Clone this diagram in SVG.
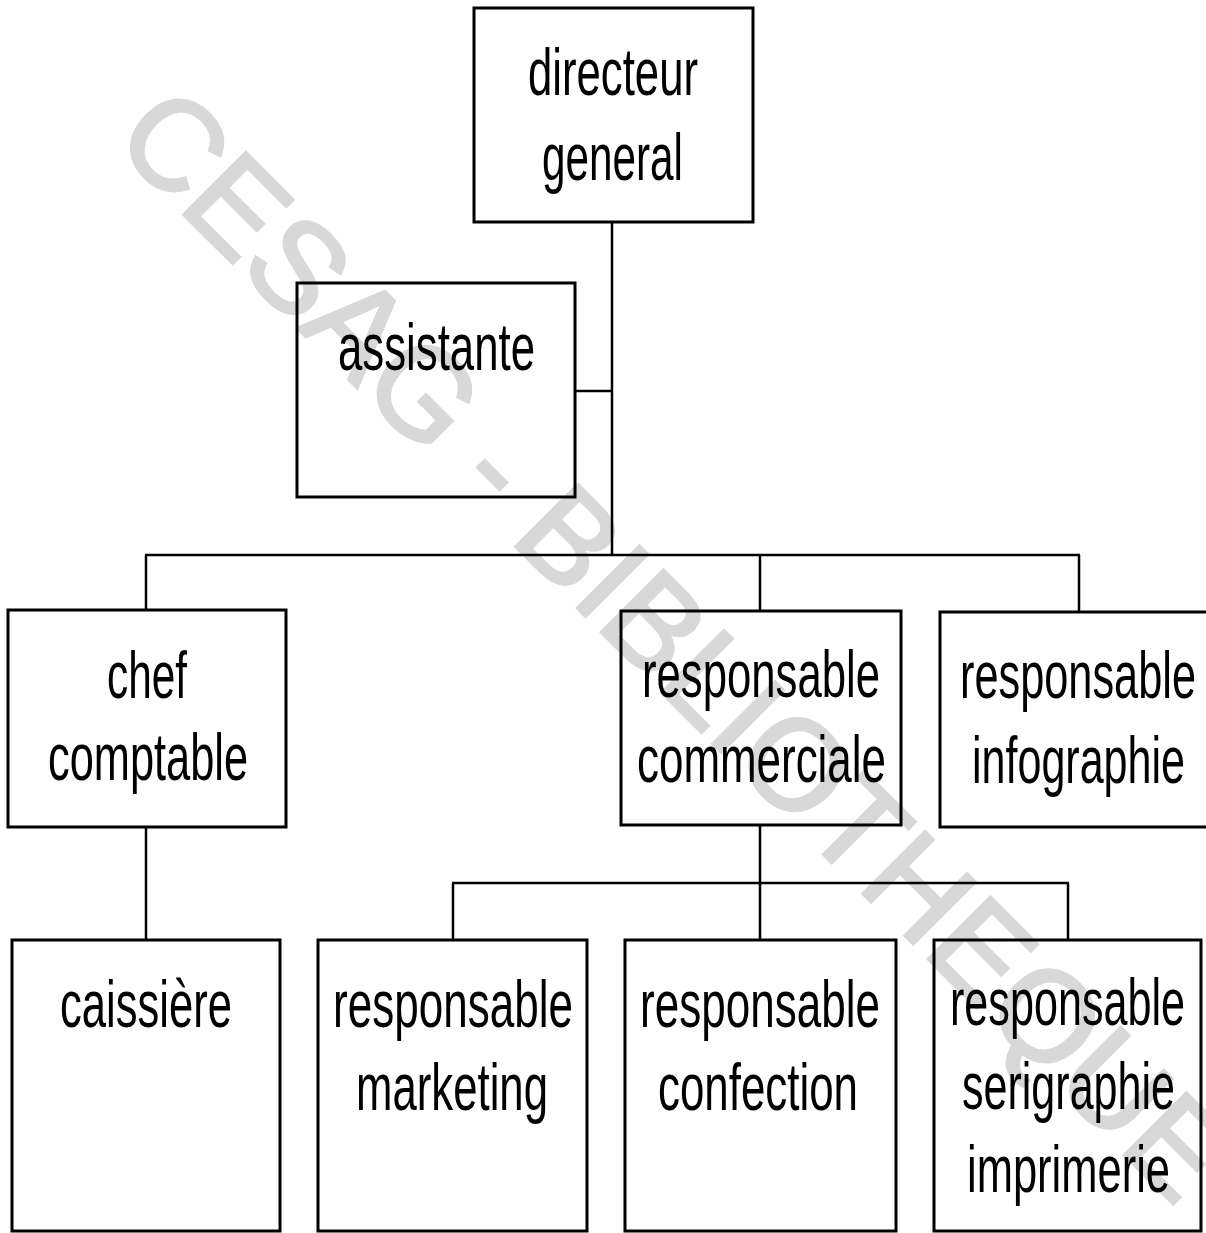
<svg xmlns="http://www.w3.org/2000/svg" width="1206" height="1233" viewBox="0 0 1206 1233">
  <style>
    .box { fill: none; stroke: #000; stroke-width: 3; }
    .lbl { font-family: "Liberation Sans Narrow", "Liberation Sans", Arial, sans-serif; font-size: 66px; fill: #000; }
    .wm { font-family: "Liberation Sans", Arial, sans-serif; font-size: 128px; fill: #d8d8d8; stroke: #d8d8d8; stroke-width: 3; }
    .conn line { stroke: #000; stroke-width: 2.5; }
  </style>
  <rect width="1206" height="1233" fill="#fff"/>
  <g id="watermark">
    <text class="wm" x="111" y="142" transform="rotate(45 111 142)">CESAG - BIBLIOTHEQUE</text>
  </g>
  <g id="connectors" class="conn">
    <line x1="612" y1="222" x2="612" y2="555"/>
    <line x1="575" y1="391" x2="612" y2="391"/>
    <line x1="145" y1="555" x2="1080" y2="555"/>
    <line x1="146" y1="555" x2="146" y2="610"/>
    <line x1="760" y1="555" x2="760" y2="611"/>
    <line x1="1079" y1="555" x2="1079" y2="612"/>
    <line x1="146" y1="827" x2="146" y2="940"/>
    <line x1="760" y1="825" x2="760" y2="940"/>
    <line x1="452" y1="883" x2="1069" y2="883"/>
    <line x1="453" y1="883" x2="453" y2="940"/>
    <line x1="1068" y1="883" x2="1068" y2="940"/>
  </g>
  <g id="directeur-general">
    <rect class="box" x="474" y="8" width="279" height="214"/>
    <text class="lbl" x="528" y="95" textLength="170" lengthAdjust="spacingAndGlyphs">directeur</text>
    <text class="lbl" x="542" y="180" textLength="141" lengthAdjust="spacingAndGlyphs">general</text>
  </g>
  <g id="assistante">
    <rect class="box" x="297" y="283" width="278" height="214"/>
    <text class="lbl" x="338" y="370" textLength="197" lengthAdjust="spacingAndGlyphs">assistante</text>
  </g>
  <g id="chef-comptable">
    <rect class="box" x="8" y="610" width="278" height="217"/>
    <text class="lbl" x="107" y="698" textLength="80" lengthAdjust="spacingAndGlyphs">chef</text>
    <text class="lbl" x="48" y="780" textLength="200" lengthAdjust="spacingAndGlyphs">comptable</text>
  </g>
  <g id="responsable-commerciale">
    <rect class="box" x="621" y="611" width="280" height="214"/>
    <text class="lbl" x="642" y="697" textLength="238" lengthAdjust="spacingAndGlyphs">responsable</text>
    <text class="lbl" x="637" y="782" textLength="249" lengthAdjust="spacingAndGlyphs">commerciale</text>
  </g>
  <g id="responsable-infographie">
    <rect class="box" x="940" y="612" width="275" height="215"/>
    <text class="lbl" x="960" y="698" textLength="236" lengthAdjust="spacingAndGlyphs">responsable</text>
    <text class="lbl" x="972" y="783" textLength="213" lengthAdjust="spacingAndGlyphs">infographie</text>
  </g>
  <g id="caissiere">
    <rect class="box" x="12" y="940" width="268" height="291"/>
    <text class="lbl" x="60" y="1027" textLength="172" lengthAdjust="spacingAndGlyphs">caissière</text>
  </g>
  <g id="responsable-marketing">
    <rect class="box" x="318" y="940" width="269" height="291"/>
    <text class="lbl" x="333" y="1027" textLength="240" lengthAdjust="spacingAndGlyphs">responsable</text>
    <text class="lbl" x="356" y="1110" textLength="192" lengthAdjust="spacingAndGlyphs">marketing</text>
  </g>
  <g id="responsable-confection">
    <rect class="box" x="625" y="940" width="271" height="291"/>
    <text class="lbl" x="640" y="1027" textLength="240" lengthAdjust="spacingAndGlyphs">responsable</text>
    <text class="lbl" x="658" y="1110" textLength="200" lengthAdjust="spacingAndGlyphs">confection</text>
  </g>
  <g id="responsable-serigraphie-imprimerie">
    <rect class="box" x="934" y="940" width="267" height="291"/>
    <text class="lbl" x="950" y="1025" textLength="235" lengthAdjust="spacingAndGlyphs">responsable</text>
    <text class="lbl" x="962" y="1109" textLength="213" lengthAdjust="spacingAndGlyphs">serigraphie</text>
    <text class="lbl" x="967" y="1192" textLength="203" lengthAdjust="spacingAndGlyphs">imprimerie</text>
  </g>
</svg>
